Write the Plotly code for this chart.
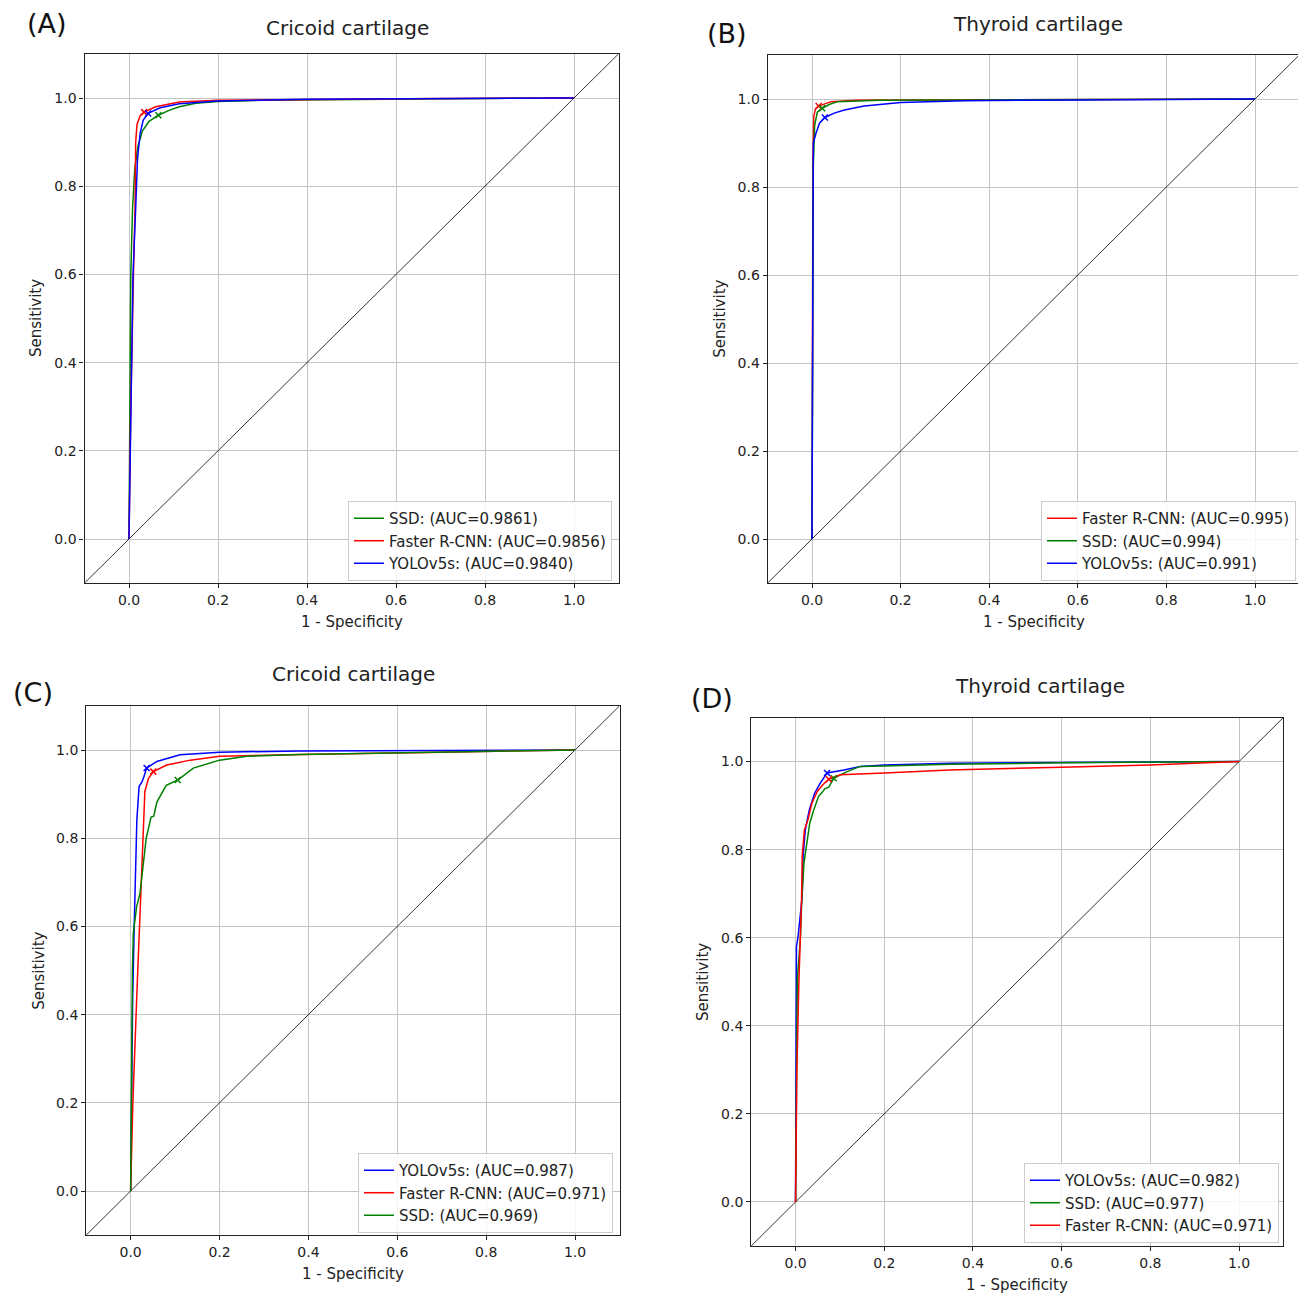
import plotly.graph_objects as go

# page body has an 8px margin; shift everything by it (the overflow on the right/bottom is blank)
OFF = 8
W, H = 1306 - OFF, 1294 - OFF

# ---------------- data ----------------
# Panel A (Cricoid cartilage)
a_ssd_x = [0, 0.002, 0.004, 0.008, 0.013, 0.02, 0.03, 0.045, 0.066, 0.09, 0.113, 0.15, 0.2, 0.3, 0.5, 0.8, 1.0]
a_ssd_y = [0, 0.3, 0.6, 0.75, 0.84, 0.89, 0.925, 0.947, 0.961, 0.972, 0.98, 0.988, 0.992, 0.995, 0.997, 0.999, 1.0]
a_frcnn_x = [0, 0.004, 0.01, 0.0136, 0.015, 0.018, 0.025, 0.034, 0.06, 0.113, 0.2, 0.4, 0.7, 1.0]
a_frcnn_y = [0, 0.3, 0.6, 0.75, 0.9, 0.94, 0.96, 0.968, 0.98, 0.991, 0.995, 0.997, 0.999, 1.0]
a_yolo_x = [0, 0.004, 0.009, 0.015, 0.019, 0.025, 0.032, 0.043, 0.07, 0.113, 0.2, 0.4, 0.7, 1.0]
a_yolo_y = [0, 0.3, 0.6, 0.75, 0.86, 0.92, 0.95, 0.965, 0.978, 0.987, 0.993, 0.997, 0.999, 1.0]
a_op = {"SSD": (0.066, 0.961), "Faster R-CNN": (0.034, 0.968), "YOLOv5s": (0.043, 0.965)}

# Panel B (Thyroid cartilage)
b_frcnn_x = [0, 0.001, 0.002, 0.004, 0.008, 0.015, 0.043, 0.1, 0.3, 1.0]
b_frcnn_y = [0, 0.5, 0.85, 0.96, 0.978, 0.984, 0.994, 0.997, 0.998, 1.0]
b_ssd_x = [0, 0.002, 0.003, 0.006, 0.012, 0.023, 0.04, 0.058, 0.15, 0.4, 1.0]
b_ssd_y = [0, 0.5, 0.85, 0.94, 0.97, 0.979, 0.988, 0.994, 0.997, 0.998, 1.0]
b_yolo_x = [0, 0.001, 0.002, 0.003, 0.009, 0.017, 0.029, 0.05, 0.073, 0.118, 0.2, 0.345, 0.6, 1.0]
b_yolo_y = [0, 0.5, 0.8, 0.9, 0.922, 0.945, 0.958, 0.968, 0.975, 0.984, 0.992, 0.996, 0.998, 1.0]
b_op = {"Faster R-CNN": (0.015, 0.984), "SSD": (0.023, 0.979), "YOLOv5s": (0.029, 0.958)}

# Panel C (Cricoid cartilage)
c_yolo_x = [0, 0.002, 0.0045, 0.008, 0.0097, 0.01, 0.014, 0.019, 0.026, 0.03, 0.036, 0.059, 0.111, 0.2, 0.382, 1.0]
c_yolo_y = [0, 0.2, 0.433, 0.6, 0.66, 0.675, 0.842, 0.917, 0.929, 0.94, 0.959, 0.974, 0.989, 0.995, 0.998, 1.0]
c_frcnn_x = [0, 0.005, 0.0135, 0.0196, 0.0225, 0.025, 0.032, 0.04, 0.051, 0.081, 0.134, 0.2, 0.382, 0.7, 1.0]
c_frcnn_y = [0, 0.2, 0.433, 0.6, 0.66, 0.729, 0.906, 0.935, 0.951, 0.966, 0.977, 0.986, 0.99, 0.995, 1.0]
c_ssd_x = [0, 0.002, 0.004, 0.006, 0.0135, 0.021, 0.027, 0.035, 0.046, 0.052, 0.059, 0.08, 0.106, 0.141, 0.2, 0.262, 0.382, 0.7, 1.0]
c_ssd_y = [0, 0.3, 0.5, 0.585, 0.645, 0.675, 0.729, 0.8, 0.848, 0.85, 0.882, 0.92, 0.932, 0.959, 0.977, 0.986, 0.99, 0.996, 1.0]
c_op = {"YOLOv5s": (0.036, 0.959), "Faster R-CNN": (0.051, 0.951), "SSD": (0.106, 0.932)}

# Panel D (Thyroid cartilage)
d_yolo_x = [0, 0.001, 0.002, 0.006, 0.01, 0.015, 0.017, 0.022, 0.031, 0.043, 0.055, 0.071, 0.109, 0.146, 0.2, 0.348, 0.6, 1.0]
d_yolo_y = [0, 0.3, 0.579, 0.605, 0.65, 0.694, 0.785, 0.845, 0.89, 0.928, 0.95, 0.974, 0.981, 0.989, 0.992, 0.996, 0.998, 1.0]
d_ssd_x = [0, 0.002, 0.004, 0.011, 0.014, 0.019, 0.025, 0.032, 0.041, 0.052, 0.06, 0.066, 0.075, 0.086, 0.116, 0.146, 0.2, 0.348, 0.6, 1.0]
d_ssd_y = [0, 0.4, 0.505, 0.6, 0.685, 0.77, 0.815, 0.86, 0.89, 0.921, 0.93, 0.938, 0.942, 0.962, 0.977, 0.989, 0.99, 0.994, 0.997, 1.0]
d_frcnn_x = [0, 0.003, 0.0075, 0.011, 0.0135, 0.015, 0.02, 0.028, 0.037, 0.049, 0.062, 0.075, 0.101, 0.2, 0.348, 0.6, 0.8, 1.0]
d_frcnn_y = [0, 0.3, 0.5, 0.6, 0.685, 0.785, 0.845, 0.868, 0.906, 0.932, 0.948, 0.96, 0.97, 0.974, 0.981, 0.987, 0.992, 1.0]
d_op = {"YOLOv5s": (0.071, 0.974), "SSD": (0.086, 0.962), "Faster R-CNN": (0.075, 0.96)}

diag = [-0.1, 1.1]
tick_vals = [0.0, 0.2, 0.4, 0.6, 0.8, 1.0]
tick_text = ["0.0", "0.2", "0.4", "0.6", "0.8", "1.0"]

COL = {"SSD": "#008000", "Faster R-CNN": "#ff0000", "YOLOv5s": "#0000ff"}

panels = [
    dict(title="Cricoid cartilage", label="(A)",
         series=[("SSD", a_ssd_x, a_ssd_y, "0.9861"),
                 ("Faster R-CNN", a_frcnn_x, a_frcnn_y, "0.9856"),
                 ("YOLOv5s", a_yolo_x, a_yolo_y, "0.9840")],
         op=a_op, px=(84.5, 618.5), py=(53.9, 583.1),
         title_xy=(347, 28), label_xy=(47, 24), leg=(612, 581)),
    dict(title="Thyroid cartilage", label="(B)",
         series=[("Faster R-CNN", b_frcnn_x, b_frcnn_y, "0.995"),
                 ("SSD", b_ssd_x, b_ssd_y, "0.994"),
                 ("YOLOv5s", b_yolo_x, b_yolo_y, "0.991")],
         op=b_op, px=(767.7, 1299.3), py=(55.0, 583.0),
         title_xy=(1038, 24), label_xy=(727, 33), leg=(1296, 581)),
    dict(title="Cricoid cartilage", label="(C)",
         series=[("YOLOv5s", c_yolo_x, c_yolo_y, "0.987"),
                 ("Faster R-CNN", c_frcnn_x, c_frcnn_y, "0.971"),
                 ("SSD", c_ssd_x, c_ssd_y, "0.969")],
         op=c_op, px=(86.2, 619.5), py=(705.9, 1235.1),
         title_xy=(353, 674), label_xy=(33, 692), leg=(613, 1233)),
    dict(title="Thyroid cartilage", label="(D)",
         series=[("YOLOv5s", d_yolo_x, d_yolo_y, "0.982"),
                 ("SSD", d_ssd_x, d_ssd_y, "0.977"),
                 ("Faster R-CNN", d_frcnn_x, d_frcnn_y, "0.971")],
         op=d_op, px=(751.2, 1283.4), py=(717.5, 1246.0),
         title_xy=(1040, 686), label_xy=(712, 698), leg=(1279, 1243)),
]


def fx(px):
    return (px - OFF) / W


def fy(py):
    return 1 - (py - OFF) / H


FONT = "DejaVu Sans"
fig = go.Figure()
annotations = []
layout_upd = {}

for i, p in enumerate(panels):
    n = i + 1
    xa = "x" if n == 1 else f"x{n}"
    ya = "y" if n == 1 else f"y{n}"
    xkey = "xaxis" if n == 1 else f"xaxis{n}"
    ykey = "yaxis" if n == 1 else f"yaxis{n}"
    lkey = "legend" if n == 1 else f"legend{n}"
    lref = "legend" if n == 1 else f"legend{n}"

    x0, x1 = fx(p["px"][0]), fx(p["px"][1])
    y0, y1 = fy(p["py"][1]), fy(p["py"][0])

    # diagonal reference line
    fig.add_trace(go.Scatter(x=diag, y=diag, mode="lines",
                             line=dict(color="black", width=0.8),
                             showlegend=False, hoverinfo="skip",
                             xaxis=xa, yaxis=ya))
    for name, xs, ys, auc in p["series"]:
        fig.add_trace(go.Scatter(x=xs, y=ys, mode="lines",
                                 line=dict(color=COL[name], width=1.5),
                                 name=f"{name}: (AUC={auc})",
                                 legend=lref, xaxis=xa, yaxis=ya))
    for name, xs, ys, auc in p["series"]:
        ox, oy = p["op"][name]
        fig.add_trace(go.Scatter(x=[ox], y=[oy], mode="markers",
                                 marker=dict(symbol="x-thin", size=6,
                                             line=dict(color=COL[name], width=1.5),
                                             color=COL[name]),
                                 showlegend=False, xaxis=xa, yaxis=ya))

    axis_common = dict(range=[-0.1, 1.1], tickvals=tick_vals, ticktext=tick_text,
                       showline=True, mirror=True, linecolor="#222", linewidth=1.2,
                       ticks="outside", ticklen=4, tickcolor="#222", tickwidth=1,
                       showgrid=True, gridcolor="#c4c4c4", gridwidth=1.4,
                       zeroline=False, tickfont=dict(family=FONT, size=14, color="#222"))
    layout_upd[xkey] = dict(axis_common, domain=[x0, x1], anchor=ya)
    layout_upd[ykey] = dict(axis_common, domain=[y0, y1], anchor=xa)

    layout_upd[lkey] = dict(x=fx(p["leg"][0]), y=fy(p["leg"][1]),
                            xanchor="right", yanchor="bottom",
                            bgcolor="rgba(255,255,255,0.85)", bordercolor="#cccccc",
                            borderwidth=1, font=dict(family=FONT, size=15, color="#222"),
                            traceorder="normal", itemwidth=30)

    annotations.append(dict(text=p["title"], x=fx(p["title_xy"][0]), y=fy(p["title_xy"][1]),
                            xref="paper", yref="paper", showarrow=False,
                            xanchor="center", yanchor="middle",
                            font=dict(family=FONT, size=20, color="#222")))
    annotations.append(dict(text=p["label"], x=fx(p["label_xy"][0]), y=fy(p["label_xy"][1]),
                            xref="paper", yref="paper", showarrow=False,
                            xanchor="center", yanchor="middle",
                            font=dict(family=FONT, size=27, color="#111")))
    cx = (p["px"][0] + p["px"][1]) / 2
    annotations.append(dict(text="1 - Specificity", x=fx(cx), y=fy(p["py"][1] + 39),
                            xref="paper", yref="paper", showarrow=False,
                            xanchor="center", yanchor="middle",
                            font=dict(family=FONT, size=15, color="#222")))
    cy = (p["py"][0] + p["py"][1]) / 2
    annotations.append(dict(text="Sensitivity", x=fx(p["px"][0] - 48), y=fy(cy),
                            xref="paper", yref="paper", showarrow=False, textangle=-90,
                            xanchor="center", yanchor="middle",
                            font=dict(family=FONT, size=15, color="#222")))

fig.update_layout(width=W, height=H, margin=dict(l=0, r=0, t=0, b=0),
                  plot_bgcolor="white", paper_bgcolor="white",
                  annotations=annotations, **layout_upd)

fig.write_html("out.html")
